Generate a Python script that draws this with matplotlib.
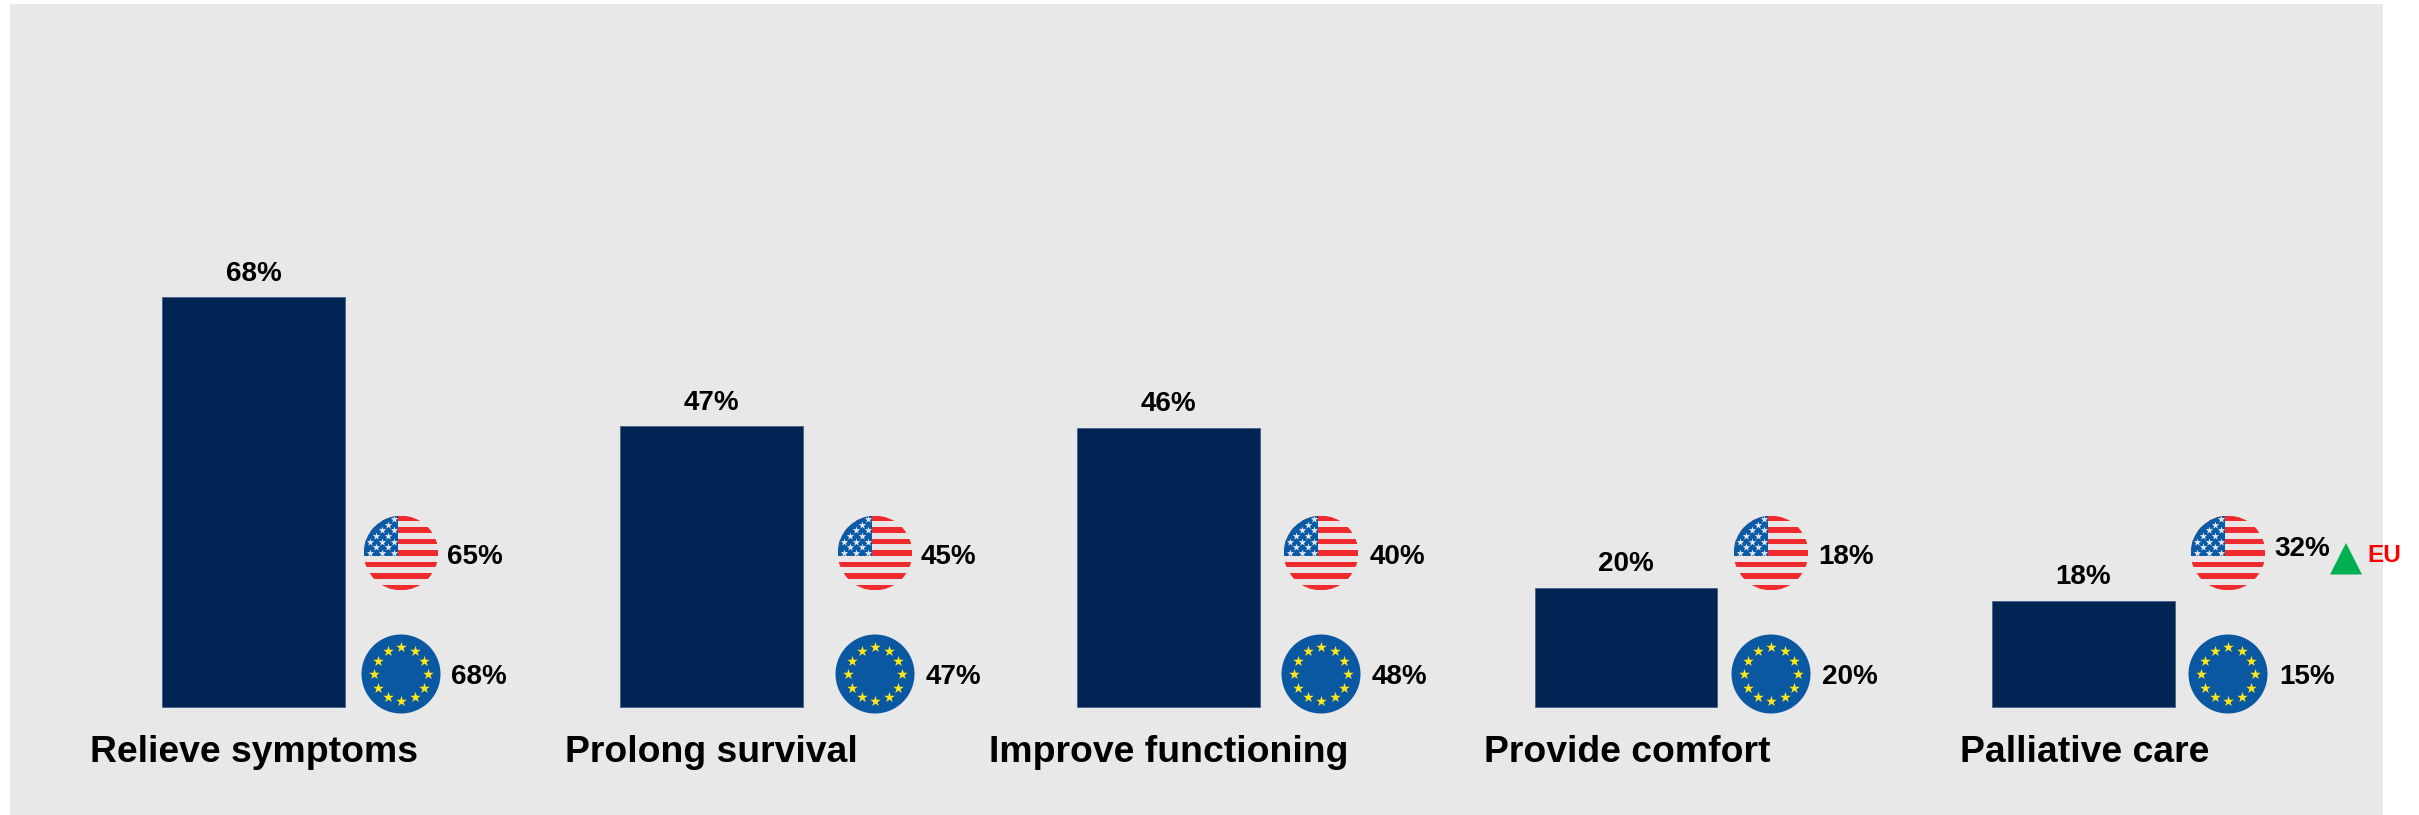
import numpy as np
import matplotlib
matplotlib.use('Agg')
import matplotlib.pyplot as plt
from matplotlib.patches import Circle, Rectangle, Polygon

categories = ['Relieve symptoms', 'Prolong survival', 'Improve functioning', 'Provide comfort', 'Palliative care']
overall = [68, 47, 46, 20, 18]
# bar lengths, the labels are rounded
bar_heights = [68, 46.6, 46.4, 19.8, 17.7]
us_values = [65, 45, 40, 18, 32]
eu_values = [68, 47, 48, 20, 15]

# layout, in pixels of the 2419x815 picture
W, H = 2419, 815
first_center = 253.8
group_step = 457.4
baseline = 707.3
px_per_pct = 6.03
us_x = [401, 875, 1321, 1771, 2228]
us_y = [553, 553, 553, 553, 553]
eu_x = [401, 875, 1321, 1771, 2228]
eu_y = [674, 674, 674, 674, 674]
us_label_x = [447, 921, 1370, 1818, 2274]
eu_label_x = [451, 926, 1372, 1822, 2279]
us_label_y = [557, 557, 557, 557, 549.5]
cat_label_x = [90, 565, 989, 1484, 1960]

plt.rcParams['font.family'] = ['Liberation Sans', 'DejaVu Sans']
fig = plt.figure(figsize=(W / 100, H / 100), dpi=100, facecolor='white')

# pixel axes for the panel and the flags
bg = fig.add_axes([0, 0, 1, 1])
bg.set_xlim(0, W)
bg.set_ylim(H, 0)
bg.axis('off')
bg.add_patch(Rectangle((10, 4), 2373, 811, fc='#e8e8e8', ec='none'))

# bars use category index and percent
ax = fig.add_axes([0, 0, 1, 1], zorder=2)
ax.patch.set_alpha(0)
ax.set_xlim(-first_center / group_step, (W - first_center) / group_step)
ax.set_ylim(-(H - baseline) / px_per_pct, baseline / px_per_pct)
ax.axis('off')
x = np.arange(len(categories))
ax.bar(x, bar_heights, width=0.4, color='#002454', edgecolor='#3d5a80', linewidth=0.5)
for i, v in enumerate(overall):
    ax.annotate('%d%%' % v, (i, bar_heights[i]), xytext=(0, 7.5), textcoords='offset points', ha='center', va='bottom',
                fontsize=20, fontweight='bold', color='black')


def draw_us(cx, cy, r=37.3):
    clip = Circle((cx, cy), r, transform=bg.transData)
    items = [bg.add_patch(Rectangle((cx - r, cy - r), 2 * r, 2 * r, fc='#ebe6e6', ec='none', zorder=3))]
    h = 2 * r / 13
    for k in range(0, 13, 2):
        items.append(bg.add_patch(Rectangle((cx - r, cy - r + k * h), 2 * r, h, fc='#ef2b2d', ec='none', zorder=4)))
    items.append(bg.add_patch(Rectangle((cx - r, cy - r), r - 3, 7 * h, fc='#0a5aa5', ec='none', zorder=5)))
    for it in items:
        it.set_clip_path(clip)
    sx, sy = [], []
    for row in range(7):
        n = 5 if row % 2 == 0 else 4
        for col in range(n):
            sx.append(cx - 3 - 4.5 - col * 11.8 - (0 if row % 2 == 0 else 5.9))
            sy.append(cy - r + 3.5 + row * 5.6)
    sx, sy = np.array(sx), np.array(sy)
    keep = (sx - cx) ** 2 + (sy - cy) ** 2 < (r - 1) ** 2
    st = bg.scatter(sx[keep], sy[keep], marker='*', s=32, c='#e4e9f2', linewidths=0, zorder=6)
    st.set_clip_path(clip)


def draw_eu(cx, cy, r=39.5):
    bg.add_patch(Circle((cx, cy), r, fc='#0a57a2', ec='none', zorder=3))
    a = np.deg2rad(np.arange(0, 360, 30))
    bg.scatter(cx + 27 * np.cos(a), cy + 27 * np.sin(a), marker='*', s=65, c='#ffe81a', linewidths=0, zorder=4)


for i in range(len(categories)):
    draw_us(us_x[i], us_y[i])
    draw_eu(eu_x[i], eu_y[i])
    bg.text(us_label_x[i], us_label_y[i], '%d%%' % us_values[i], ha='left', va='center', fontsize=20, fontweight='bold', zorder=7)
    bg.text(eu_label_x[i], 677.5, '%d%%' % eu_values[i], ha='left', va='center', fontsize=20, fontweight='bold', zorder=7)
    bg.text(cat_label_x[i], 752, categories[i], ha='left', va='center', fontsize=26.9, fontweight='bold', zorder=7)

# EU arrow on the last group
bg.add_patch(Polygon([[2330, 574.5], [2346, 543], [2362, 574.5]], closed=True, fc='#00b050', ec='none', zorder=7))
bg.text(2367, 555, 'EU', ha='left', va='center', fontsize=17.5, fontweight='bold', color='#ff0000', zorder=7)

fig.savefig('out.png', dpi=100)
